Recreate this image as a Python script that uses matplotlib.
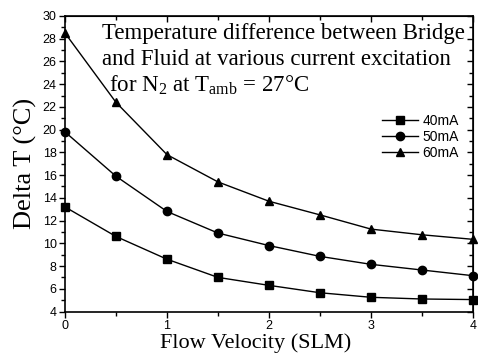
import matplotlib
matplotlib.use("Agg")
import matplotlib.pyplot as plt
from matplotlib.ticker import MultipleLocator

# Flow velocity (SLM) and temperature difference (°C) per excitation current
flow = [0, 0.5, 1, 1.5, 2, 2.5, 3, 3.5, 4]
dt_40 = [13.2, 10.6, 8.6, 7.0, 6.3, 5.65, 5.25, 5.1, 5.05]
dt_50 = [19.8, 15.9, 12.8, 10.9, 9.8, 8.85, 8.15, 7.65, 7.15]
dt_60 = [28.5, 22.4, 17.8, 15.4, 13.7, 12.5, 11.25, 10.75, 10.35]
labels = ["40mA", "50mA", "60mA"]
x_ticks = [0, 1, 2, 3, 4]
y_ticks = list(range(4, 31, 2))

serif = ["Liberation Serif", "DejaVu Serif"]
sans = ["Liberation Sans", "DejaVu Sans"]
plt.rcParams["mathtext.fontset"] = "custom"
plt.rcParams["mathtext.rm"] = "Liberation Serif"
plt.rcParams["mathtext.it"] = "Liberation Serif:italic"

fig = plt.figure(figsize=(4.78, 3.61), dpi=100)
ax = fig.add_axes([65 / 478, 1 - 311.5 / 361, (473 - 65) / 478, (311.5 - 16) / 361])

for ys, mk, lab in zip([dt_40, dt_50, dt_60], ["s", "o", "^"], labels):
    ax.plot(flow, ys, color="black", lw=1.0, marker=mk, markersize=6, label=lab,
            clip_on=False, zorder=3)

ax.set_xlim(0, 4)
ax.set_ylim(4, 30)
ax.set_xticks(x_ticks)
ax.set_yticks(y_ticks)
ax.xaxis.set_minor_locator(MultipleLocator(0.5))
ax.yaxis.set_minor_locator(MultipleLocator(1))
ax.tick_params(which="both", direction="out", top=False, right=False,
               labelsize=9, width=1, pad=2)
ax.tick_params(which="major", length=4)
ax.tick_params(which="minor", length=3)
for lab in ax.get_xticklabels() + ax.get_yticklabels():
    lab.set_family(sans)

# inward ticks on the top and right spines
sec_x = ax.secondary_xaxis("top")
sec_x.set_xticks(x_ticks)
sec_x.xaxis.set_minor_locator(MultipleLocator(0.5))
sec_x.tick_params(which="both", direction="in", labeltop=False, length=4, width=1)
sec_x.tick_params(which="minor", length=3)
sec_y = ax.secondary_yaxis("right")
sec_y.set_yticks(y_ticks)
sec_y.yaxis.set_minor_locator(MultipleLocator(1))
sec_y.tick_params(which="both", direction="in", labelright=False, length=4, width=1)
sec_y.tick_params(which="minor", length=3)

for s in ax.spines.values():
    s.set_linewidth(1.2)

ax.set_xlabel("Flow Velocity (SLM)", family=serif, fontsize=16, labelpad=5)
ax.xaxis.set_label_coords(0.466, -0.075, transform=ax.transAxes)
ax.xaxis.label.set_va("top")
ax.set_ylabel("Delta T (°C)", family=serif, fontsize=19, labelpad=4)

ax.text(0.091, 0.922, "Temperature difference between Bridge", transform=ax.transAxes,
        family=serif, fontsize=16.5, va="baseline", ha="left")
ax.text(0.091, 0.834, "and Fluid at various current excitation", transform=ax.transAxes,
        family=serif, fontsize=16.5, va="baseline", ha="left")
ax.text(0.108, 0.743, r"for N$_2$ at T$_{\mathrm{amb}}$ = 27°C", transform=ax.transAxes,
        family=serif, fontsize=16.5, va="baseline", ha="left")

ax.legend(loc="upper right", bbox_to_anchor=(0.985, 0.697), frameon=False,
          prop={"family": sans, "size": 10}, handlelength=2.6, handletextpad=0.3,
          labelspacing=0.15, borderaxespad=0.2)

fig.savefig("out.png", dpi=100)
